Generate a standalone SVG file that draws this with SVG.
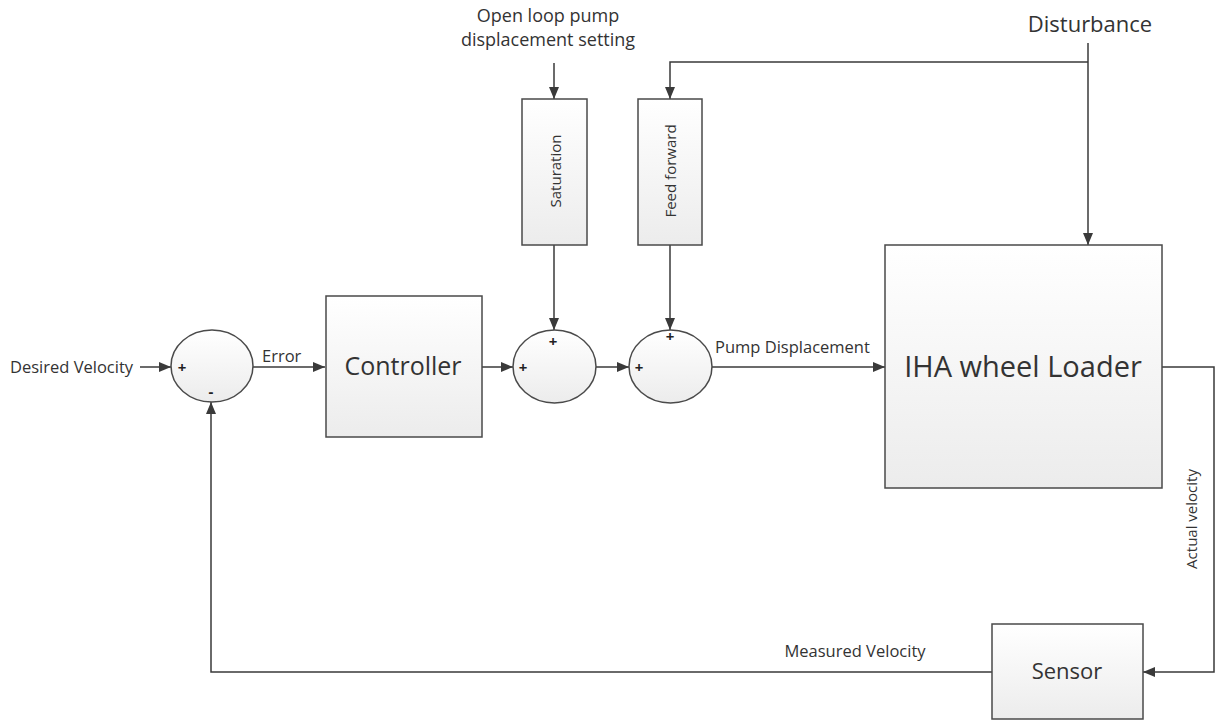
<svg xmlns="http://www.w3.org/2000/svg" width="1215" height="721" viewBox="0 0 1215 721">
  <defs>
    <linearGradient id="boxFill" x1="0" y1="0" x2="0" y2="1">
      <stop offset="0" stop-color="#ffffff"/>
      <stop offset="1" stop-color="#ececec"/>
    </linearGradient>
    <marker id="arrow" viewBox="0 0 12 10" refX="12" refY="5" markerWidth="12" markerHeight="10" markerUnits="userSpaceOnUse" orient="auto">
      <path d="M0,0 L12,5 L0,10 Z" fill="#3a3a3a"/>
    </marker>
  </defs>
  <style>
    .block { fill: url(#boxFill); stroke: #4a4a4a; stroke-width: 1.5; }
    .wire { fill: none; stroke: #3a3a3a; stroke-width: 1.5; }
    .arr { marker-end: url(#arrow); }
    text { font-family: "Open Sans", "Noto Sans", sans-serif; fill: #333333; }
    .lbl { font-size: 16.5px; }
    .vlbl { font-size: 15px; }
    .sign { font-size: 15px; text-anchor: middle; fill: #222222; font-weight: bold; }
    .mid { text-anchor: middle; }
  </style>
  <rect width="1215" height="721" fill="#ffffff"/>

  <!-- signal connectors -->
  <g id="connectors">
    <path class="wire arr" d="M140,367 H171"/>
    <path class="wire arr" d="M253,367 H325"/>
    <path class="wire arr" d="M482,367 H513"/>
    <path class="wire arr" d="M596,367 H629"/>
    <path class="wire arr" d="M712,367 H885"/>
    <path class="wire arr" d="M554,63 V99"/>
    <path class="wire arr" d="M554,245 V330"/>
    <path class="wire arr" d="M670,245 V330"/>
    <path class="wire arr" d="M1088,43 V245"/>
    <path class="wire arr" d="M1088,62 H670 V99"/>
    <path class="wire arr" d="M1162,367 H1214 V672 H1143"/>
    <path class="wire arr" d="M992,672 H211 V402"/>
  </g>

  <!-- free-standing signal labels -->
  <g id="labels">
    <text class="lbl" x="10" y="373" font-size="17">Desired Velocity</text>
    <text class="lbl" x="262" y="362">Error</text>
    <text class="lbl" x="715" y="353">Pump Displacement</text>
    <text class="mid" x="548" y="22" font-size="18">Open loop pump</text>
    <text class="mid" x="548" y="46" font-size="18">displacement setting</text>
    <text class="mid" x="1090" y="32" font-size="22">Disturbance</text>
    <text class="mid lbl" x="855" y="657" font-size="17">Measured Velocity</text>
    <text class="mid vlbl" transform="translate(1197,519) rotate(-90)">Actual velocity</text>
  </g>

  <g id="sum-error">
    <ellipse class="block" cx="212" cy="366" rx="41" ry="36"/>
    <text class="sign" x="182" y="373">+</text>
    <text class="sign" x="211" y="397">-</text>
  </g>

  <g id="controller">
    <rect class="block" x="326" y="296" width="156" height="141"/>
    <text class="mid" x="403" y="375" font-size="25">Controller</text>
  </g>

  <g id="sum-open-loop">
    <ellipse class="block" cx="554.5" cy="366.5" rx="41.5" ry="36.5"/>
    <text class="sign" x="523" y="373">+</text>
    <text class="sign" x="553" y="347">+</text>
  </g>

  <g id="sum-feed-forward">
    <ellipse class="block" cx="670.5" cy="366.5" rx="41.5" ry="36.5"/>
    <text class="sign" x="639" y="373">+</text>
    <text class="sign" x="670" y="342">+</text>
  </g>

  <g id="saturation">
    <rect class="block" x="522" y="99" width="65" height="146"/>
    <text class="mid vlbl" transform="translate(561,171) rotate(-90)">Saturation</text>
  </g>

  <g id="feed-forward">
    <rect class="block" x="638" y="99" width="64" height="146"/>
    <text class="mid vlbl" transform="translate(676,171) rotate(-90)">Feed forward</text>
  </g>

  <g id="wheel-loader">
    <rect class="block" x="885" y="245" width="277" height="243"/>
    <text class="mid" x="1023" y="377" font-size="29">IHA wheel Loader</text>
  </g>

  <g id="sensor">
    <rect class="block" x="992" y="624" width="151" height="95"/>
    <text class="mid" x="1067" y="679" font-size="22">Sensor</text>
  </g>
</svg>
